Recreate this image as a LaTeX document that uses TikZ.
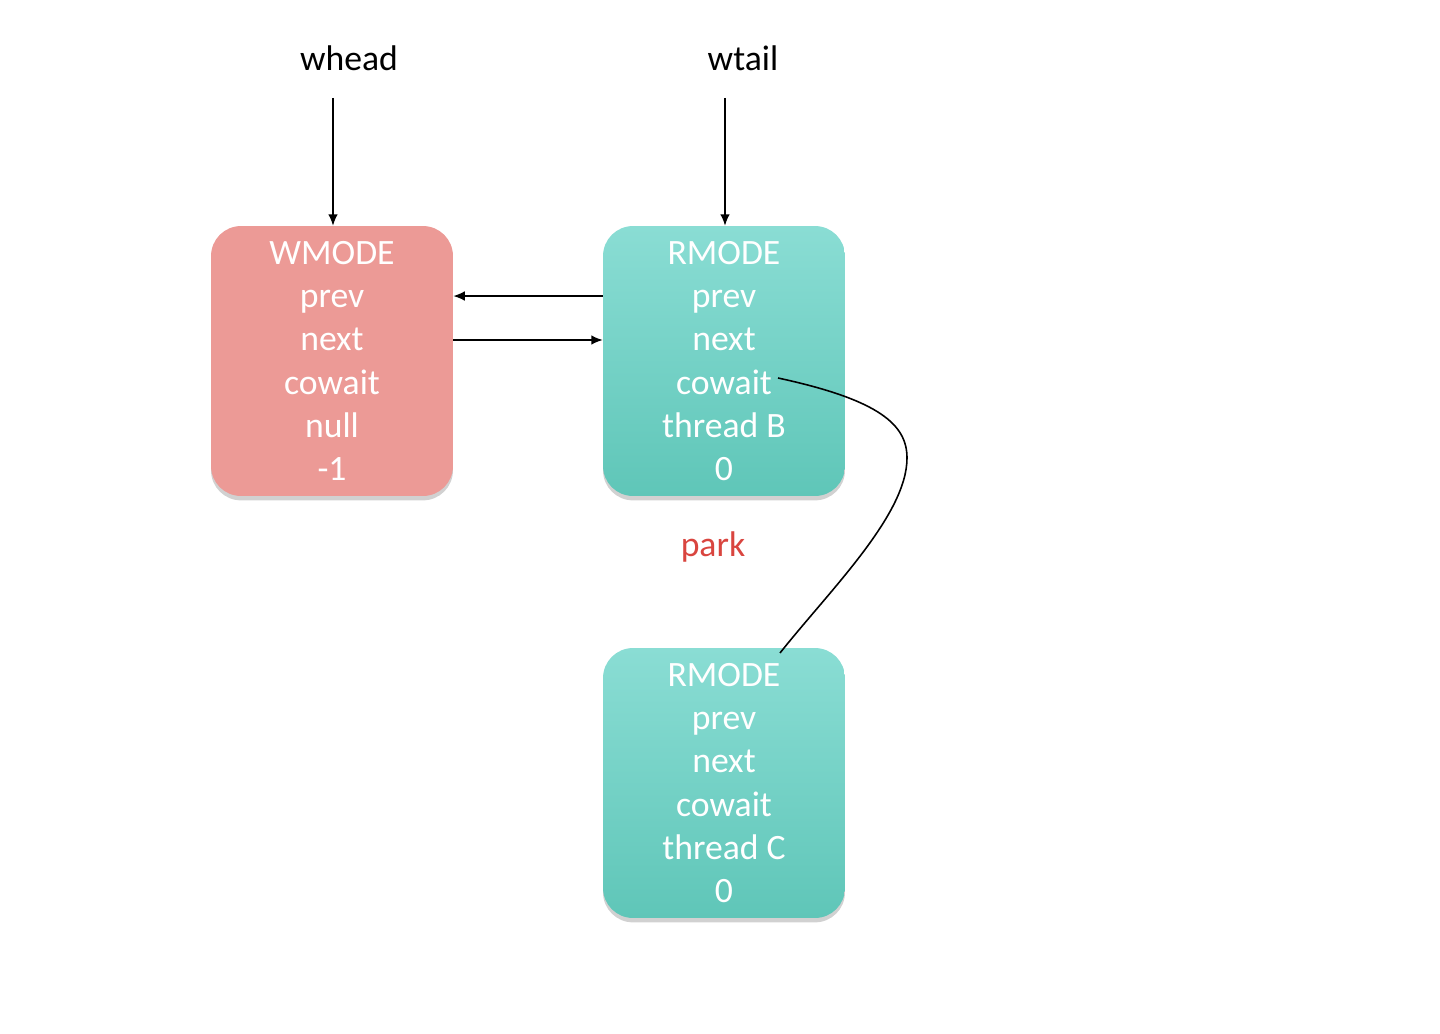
\documentclass[tikz,border=0pt]{standalone}
\usepackage{fontspec}
\setmainfont{Carlito}
\usetikzlibrary{arrows.meta,shadows}
\definecolor{wred}{HTML}{EC9A96}
\definecolor{ttop}{HTML}{8ADDD4}
\definecolor{tbot}{HTML}{5FC6B8}
\definecolor{parkred}{HTML}{D9453F}
\tikzset{
  nodebox/.style={rounded corners=0.6cm, minimum width=4.84cm, minimum height=5.4cm,
    inner sep=0pt, align=center, text=white, font=\fontsize{20.3}{24.6}\selectfont,
    drop shadow={shadow xshift=0pt, shadow yshift=-2.5pt, opacity=0.3, fill=black!60}},
  wbox/.style={nodebox, fill=wred},
  tbox/.style={nodebox, top color=ttop, bottom color=tbot},
  lbl/.style={font=\fontsize{20.3}{24}\selectfont, inner sep=0pt},
  arr/.style={-{Latex[length=6.5pt,width=5.5pt]}, line width=0.85pt},
}
\begin{document}
\begin{tikzpicture}[x=0.02cm,y=-0.02cm]
\useasboundingbox (0,0) rectangle (1440,1034);
\node[wbox] (W) at (332,361) {WMODE\\prev\\next\\cowait\\null\\-1};
\node[tbox] (B) at (724,361) {RMODE\\prev\\next\\cowait\\thread B\\0};
\node[tbox] (C) at (724,783) {RMODE\\prev\\next\\cowait\\thread C\\0};
\node[lbl] (wh) at (349,58) {whead};
\node[lbl] (wt) at (743,58) {wtail};
\node[lbl, text=parkred] (park) at (713,547) {park};
\coordinate (whs) at (333,98);
\coordinate (wts) at (725,98);
\coordinate (cw) at (778,378);
\coordinate (ce) at (780,653);
\draw[arr] (whs) -- (whs |- W.north);
\draw[arr] (wts) -- (wts |- B.north);
\draw[arr] ([yshift=1.3cm]B.west) -- ([yshift=1.3cm]W.east);
\draw[arr] ([yshift=0.42cm]W.east) -- ([yshift=0.42cm]B.west);
\draw[line width=0.9pt] (cw) .. controls (880,400) and (907,425) .. (907,458)
  .. controls (907,515) and (830,590) .. (ce);
\end{tikzpicture}
\end{document}
